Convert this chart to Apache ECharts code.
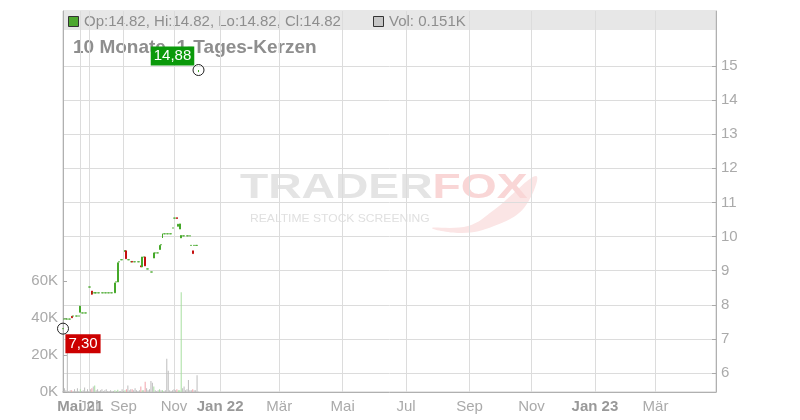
<!DOCTYPE html>
<html><head><meta charset="utf-8">
<script src="https://cdn.jsdelivr.net/npm/echarts@6/dist/echarts.min.js"></script>
<style>html,body{margin:0;padding:0;background:#fff}#c{width:800px;height:420px}</style>
</head><body><div id="c"></div>
<script>
const FONT = '"Liberation Sans", Arial, sans-serif';

// trading days with a trade
const dates = [
 '2021-04-06','2021-04-07','2021-04-08','2021-04-09','2021-04-12','2021-04-13','2021-04-14','2021-04-15','2021-04-16','2021-04-19','2021-04-20','2021-04-21',
 '2021-05-03','2021-05-12','2021-05-25','2021-06-08','2021-06-17','2021-06-28',
 '2021-07-01','2021-07-02','2021-07-05','2021-07-06','2021-07-07','2021-07-08','2021-07-09','2021-07-12','2021-07-13','2021-07-14','2021-07-15','2021-07-16','2021-07-19','2021-07-20',
 '2021-08-02','2021-08-03','2021-08-05','2021-08-09','2021-08-12','2021-08-16','2021-08-19','2021-08-23','2021-08-26','2021-08-30',
 '2021-09-01','2021-09-02','2021-09-03','2021-09-06','2021-09-07','2021-09-08','2021-09-09','2021-09-10','2021-09-13','2021-09-14','2021-09-15','2021-09-16','2021-09-17','2021-09-20','2021-09-21','2021-09-22','2021-09-23','2021-09-24','2021-09-27','2021-09-28','2021-09-29','2021-09-30',
 '2021-10-01','2021-10-04','2021-10-06','2021-10-07','2021-10-08','2021-10-11','2021-10-13','2021-10-15','2021-10-18','2021-10-20','2021-10-22','2021-10-26','2021-10-28',
 '2021-11-01','2021-11-02','2021-11-03','2021-11-04','2021-11-05','2021-11-08','2021-11-09','2021-11-10','2021-11-11','2021-11-12','2021-11-15','2021-11-16','2021-11-17',
 '2021-12-01','2021-12-03','2021-12-07','2021-12-09','2021-12-13'
];
const open = [
 7.30,7.58,7.58,7.58,7.58,7.58,7.66,7.67,7.67,7.67,
 7.67,7.67,7.78,7.76,7.76,7.76,7.76,7.76,8.52,8.52,
 8.40,8.35,8.34,8.35,8.35,8.35,8.35,8.35,8.35,8.35,
 8.35,8.35,8.35,8.35,8.35,8.35,8.35,8.67,8.67,9.26,
 9.32,9.32,9.32,9.56,9.58,9.32,9.32,9.26,9.27,9.26,
 9.26,9.26,9.26,9.26,9.14,9.11,9.40,9.40,9.05,9.05,
 8.96,8.96,8.96,9.37,9.52,9.52,9.52,9.62,9.76,9.96,
 10.08,10.08,10.08,10.08,10.08,10.08,10.25,10.54,10.54,10.55,
 10.30,10.22,9.96,10.02,10.02,10.02,10.02,10.02,10.02,9.74,
 9.58,9.74,9.74,9.74,14.82
];
const close = [
 7.30,7.58,7.58,7.58,7.58,7.58,7.62,7.67,7.67,7.67,
 7.67,7.67,7.96,7.76,7.76,7.76,7.76,7.76,8.52,8.52,
 8.31,8.35,8.36,8.35,8.35,8.35,8.35,8.35,8.35,8.35,
 8.35,8.35,8.35,8.35,8.35,8.35,8.64,8.67,9.23,9.26,
 9.32,9.32,9.32,9.59,9.35,9.32,9.32,9.26,9.25,9.26,
 9.26,9.26,9.26,9.26,9.11,9.40,9.40,9.14,9.05,9.05,
 8.96,8.96,8.96,9.52,9.52,9.52,9.52,9.74,9.76,10.08,
 10.08,10.08,10.08,10.08,10.08,10.08,10.25,10.54,10.54,10.53,
 10.36,10.37,10.03,10.02,10.02,10.02,10.02,10.02,10.02,9.74,
 9.50,9.74,9.74,9.74,14.82
];
const low = [
 7.30,7.58,7.58,7.58,7.58,7.58,7.62,7.67,7.67,7.67,
 7.67,7.67,7.78,7.76,7.76,7.76,7.76,7.76,8.52,8.52,
 8.30,8.35,8.34,8.35,8.35,8.35,8.35,8.35,8.35,8.35,
 8.35,8.35,8.35,8.35,8.35,8.35,8.35,8.67,8.67,9.26,
 9.32,9.32,9.32,9.56,9.35,9.32,9.32,9.26,9.25,9.26,
 9.26,9.26,9.26,9.26,9.11,9.11,9.40,9.14,9.05,9.05,
 8.96,8.96,8.96,9.37,9.52,9.52,9.52,9.62,9.76,9.96,
 10.08,10.08,10.08,10.08,10.08,10.08,10.25,10.54,10.54,10.53,
 10.30,10.22,9.96,10.02,10.02,10.02,10.02,10.02,10.02,9.74,
 9.50,9.74,9.74,9.74,14.82
];
const high = [
 7.30,7.58,7.58,7.58,7.58,7.58,7.66,7.67,7.67,7.67,
 7.67,7.67,7.96,7.76,7.76,7.76,7.76,7.76,8.52,8.52,
 8.40,8.35,8.36,8.35,8.35,8.35,8.35,8.35,8.35,8.35,
 8.35,8.35,8.35,8.35,8.35,8.35,8.64,8.67,9.23,9.26,
 9.32,9.32,9.32,9.59,9.58,9.32,9.32,9.26,9.27,9.26,
 9.26,9.26,9.26,9.26,9.14,9.40,9.40,9.40,9.05,9.05,
 8.96,8.96,8.96,9.52,9.52,9.52,9.52,9.74,9.76,10.08,
 10.08,10.08,10.08,10.08,10.08,10.08,10.25,10.54,10.54,10.55,
 10.36,10.37,10.03,10.02,10.02,10.02,10.02,10.02,10.02,9.74,
 9.58,9.74,9.74,9.74,14.88
];
const volume = [
 500,2000,1000,26000,500,1000,1000,500,1500,500,
 2000,500,1500,500,1000,2500,500,1500,500,1500,
 2000,3000,3500,1000,1500,500,1000,1500,500,1000,
 1500,500,500,1000,500,500,1000,500,1200,500,
 500,1500,500,1000,1500,3500,1000,1500,1500,1000,
 2000,1000,500,1000,3000,1000,1000,5500,2000,1000,
 1500,6000,5000,3000,1000,500,1000,1500,1000,1000,
 500,1000,18000,11500,1000,500,1000,1500,1000,1500,
 1000,1000,54000,2000,3000,1000,1500,6500,1000,1000,
 1500,1000,1000,9000,151
];
const axisEnd = '2023-04-28';
const priceTicks = [6,7,8,9,10,11,12,13,14,15];
const volumeTicks = [0,20000,40000,60000];
const monthNames = ['Jan','Feb','Mär','Apr','Mai','Jun','Jul','Aug','Sep','Okt','Nov','Dez'];
const headerText = 'Op:14.82, Hi:14.82, Lo:14.82, Cl:14.82';
const volText = 'Vol: 0.151K';
const titleText = '10 Monate, 1-Tages-Kerzen';

// axis slots: trading days with data, then future weekdays
const allDates = dates.slice();
(function(){
  const d = new Date(dates[dates.length-1] + 'T12:00:00Z');
  const end = new Date(axisEnd + 'T12:00:00Z');
  d.setUTCDate(d.getUTCDate()+1);
  while (d <= end) {
    const wd = d.getUTCDay();
    if (wd !== 0 && wd !== 6) allDates.push(d.toISOString().slice(0,10));
    d.setUTCDate(d.getUTCDate()+1);
  }
})();
const labelMap = {};
const labelOrder = {};
(function(){
  let first = true, prevM = null, n = 0;
  allDates.forEach((s,i) => {
    const y = +s.slice(0,4), m = +s.slice(5,7);
    if (m !== prevM && m % 2 === 1) {
      const yy = String(y).slice(2);
      if (first || m === 1) labelMap[i] = '{b|' + monthNames[m-1] + ' ' + yy + '}';
      else labelMap[i] = monthNames[m-1];
      labelOrder[i] = n++;
      first = false;
    }
    prevM = m;
  });
})();
const showIdx = (i) => labelMap[i] !== undefined;
const showPart = (i, part) => labelMap[i] !== undefined && labelOrder[i] % 2 === part;

const UP = '#45a829', DOWN = '#c40f0f';
const candles = open.map((o,i) => [o, close[i], low[i], high[i]]);
const volData = volume.map((v,i) => ({
  value: v,
  itemStyle: {color: close[i] > open[i] ? '#a6dea0' : (close[i] < open[i] ? '#f2a3ab' : '#bdbdbd')}
}));

const labelStyle = (part) => ({
  interval: (i) => showPart(i, part), formatter: (v, i) => labelMap[i] || '',
  hideOverlap: false,
  color: '#aaa', fontSize: 15, fontFamily: FONT, margin: 7,
  rich: {b: {fontWeight: 'bold', color: '#999', fontSize: 15, fontFamily: FONT}}
});

const chart = echarts.init(document.getElementById('c'), null, {renderer:'canvas'});
chart.setOption({
  animation: false,
  backgroundColor: '#fff',
  grid: {left: 63, right: 84, top: 11, bottom: 28, show: true, borderColor: '#cfcfcf', borderWidth: 1, containLabel: false},
  xAxis: [
    {
      type: 'category', data: allDates, boundaryGap: false, position: 'bottom',
      axisLine: {lineStyle: {color: '#b0b0b0'}},
      axisTick: {show: false},
      axisLabel: labelStyle(0),
      splitLine: {show: true, interval: (i) => showIdx(i), lineStyle: {color: '#dcdcdc', width: 1}}
    },
    {
      type: 'category', data: allDates, boundaryGap: false, position: 'bottom', offset: 0,
      axisLine: {show: false},
      axisTick: {show: false},
      axisLabel: labelStyle(1),
      splitLine: {show: false}
    }
  ],
  yAxis: [
    {
      type: 'value', position: 'right', min: 5.443, max: 16.61, scale: true,
      axisLine: {show: true, lineStyle: {color: '#b0b0b0'}},
      axisTick: {show: true, inside: true, length: 4, customValues: priceTicks, lineStyle: {color: '#aaa'}},
      axisLabel: {customValues: priceTicks, color: '#aaa', fontSize: 15, fontFamily: FONT, margin: 5},
      splitLine: {show: true, lineStyle: {color: '#dcdcdc', width: 1}}
    },
    {
      type: 'value', position: 'left', min: 0, max: 206000,
      axisLine: {show: true, lineStyle: {color: '#b0b0b0'}},
      axisTick: {show: true, inside: true, length: 4, customValues: volumeTicks, lineStyle: {color: '#aaa'}},
      axisLabel: {customValues: volumeTicks, formatter: (v) => (v/1000) + 'K', color: '#aaa', fontSize: 15, fontFamily: FONT, margin: 5},
      splitLine: {show: false}
    }
  ],
  graphic: [
    {type: 'rect', z: -5, silent: true, shape: {x: 63.5, y: 12, width: 652.5, height: 18}, style: {fill: 'rgba(215,215,215,0.6)'}},
    {type: 'rect', silent: true, shape: {x: 68.5, y: 16.5, width: 10, height: 10}, style: {fill: '#4da82f', stroke: '#333', lineWidth: 1}},
    {type: 'text', silent: true, x: 84, y: 21.5, style: {text: headerText, fontSize: 15, fontFamily: FONT, fill: '#8e8e8e', verticalAlign: 'middle'}},
    {type: 'rect', silent: true, shape: {x: 373.5, y: 16.5, width: 10, height: 10}, style: {fill: '#c6c6c6', stroke: '#333', lineWidth: 1}},
    {type: 'text', silent: true, x: 389, y: 21.5, style: {text: volText, fontSize: 15, fontFamily: FONT, fill: '#8e8e8e', verticalAlign: 'middle'}},
    {type: 'text', silent: true, x: 73, y: 48, style: {text: titleText, fontSize: 19, fontWeight: 'bold', fontFamily: FONT, fill: '#8e8e8e', verticalAlign: 'middle'}},
    // watermark
    {type: 'polygon', z: -10, silent: true,
     shape: {points: [[432,228],[468,226],[494,210],[536,176],[524,208],[494,226],[462,233]], smooth: 0.4},
     style: {fill: '#fbe5e5'}},
    {type: 'text', z: -10, silent: true, x: 240, y: 188, scaleX: 1.32, scaleY: 1,
     style: {text: '{a|TRADER}{b|FOX}', verticalAlign: 'middle',
       rich: {a: {fontSize: 35, fontWeight: 'bold', fontFamily: FONT, fill: '#e4e4e4'},
              b: {fontSize: 35, fontWeight: 'bold', fontFamily: FONT, fill: '#f9d6d6'}}}},
    {type: 'text', z: -10, silent: true, x: 250, y: 219, scaleX: 1.1, scaleY: 1,
     style: {text: 'REALTIME STOCK SCREENING', fontSize: 11, fontFamily: FONT, fill: '#e0e0e0', verticalAlign: 'middle'}}
  ],
  series: [
    {
      type: 'bar', xAxisIndex: 0, yAxisIndex: 1, data: volData, barWidth: 1, z: 1, silent: true
    },
    {
      type: 'candlestick', xAxisIndex: 0, yAxisIndex: 0, data: candles, barWidth: 1.4, z: 3,
      itemStyle: {color: UP, color0: DOWN, borderColor: UP, borderColor0: DOWN, borderColorDoji: UP, borderWidth: 1},
      markPoint: {
        symbol: 'circle', symbolSize: 11, silent: true,
        itemStyle: {color: 'rgba(0,0,0,0)', borderColor: '#222', borderWidth: 1},
        label: {show: true, color: '#fff', fontSize: 15, fontFamily: FONT, padding: [2, 3],
                formatter: (p) => Number(p.value).toFixed(2).replace('.', ',')},
        data: [
          {type: 'max', valueDim: 'highest', label: {backgroundColor: '#0b9a0b', offset: [-26, -14]}},
          {type: 'min', valueDim: 'lowest', label: {backgroundColor: '#cc0000', offset: [20, 15]}}
        ]
      }
    }
  ]
});
</script>
</body></html>
